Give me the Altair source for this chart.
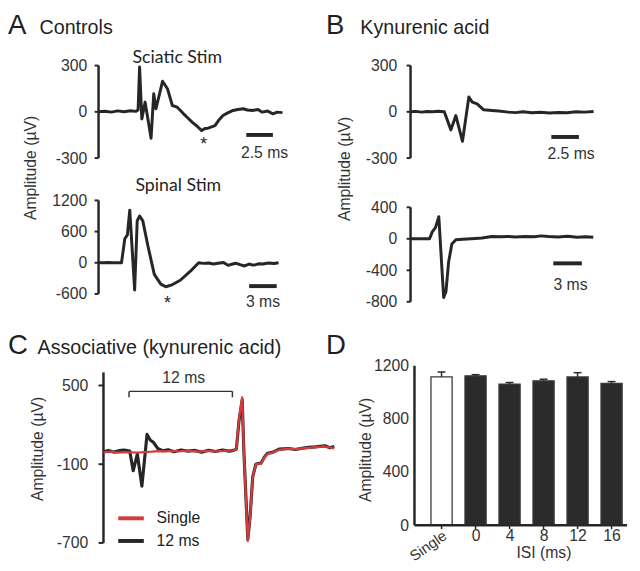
import altair as alt
import pandas as pd

FONT = "Liberation Sans"
INK = "#262626"
LABEL = "#333333"
RED = "#d23c3c"

# ---------------- data ----------------
# A, controls, sciatic stimulation: time (ms), amplitude (uV)
sci_ctrl_t = [0.0, 0.6, 1.2, 1.8, 2.4, 3.0, 3.5, 3.72, 3.86, 4.07, 4.38, 4.94, 5.19, 5.40, 6.02, 6.48,
              6.94, 7.40, 8.00, 8.40, 8.80, 9.30, 9.70, 10.00, 10.30, 10.95, 11.30, 11.70, 12.20, 12.65,
              13.10, 13.60, 14.00, 14.50, 15.00, 15.40, 15.90, 16.40, 16.80, 17.30]
sci_ctrl_v = [0, 4, -2, 6, 1, 7, 3, 12, 291, -46, 63, -171, 117, 20, 198, 150,
              41, 30, -13, -40, -67, -95, -122, -108, -106, -89, -55, -24, -5, 9,
              15, 20, 12, 9, 15, -2, 5, -13, -2, -5]
# A, controls, spinal stimulation
spi_ctrl_t = [0.0, 0.5, 1.0, 1.5, 2.0, 2.5, 2.86, 3.14, 3.40, 3.93, 4.21, 4.47, 4.82, 5.36, 6.07, 6.78,
              7.32, 8.00, 8.90, 10.0, 10.9, 11.4, 12.0, 12.5, 13.0, 13.6, 14.1, 14.6, 15.0, 15.4,
              15.9, 16.4, 16.8, 17.1, 17.5, 17.9, 18.3, 18.6, 19.1, 19.6]
spi_ctrl_v = [0, 0, 5, 0, 0, 0, 462, 537, 1012, -525, 806, 900, 806, 337, -225, -412,
              -462, -425, -337, -162, 0, -12, -5, -25, -10, 6, -50, -25, -10, -37,
              -62, -25, -45, -37, -20, -25, -10, -6, -15, 0]
# B, kynurenic acid, sciatic stimulation
sci_kyn_t = [0.0, 0.5, 1.0, 1.5, 2.0, 2.5, 3.06, 3.66, 4.11, 4.71, 5.29, 5.60, 6.04, 6.63, 7.38, 8.0,
             8.87, 9.5, 10.2, 11.0, 11.8, 12.6, 13.4, 14.2, 15.0, 15.8, 16.6]
sci_kyn_v = [0, 3, -2, 2, 0, 4, 0, -117, -24, -191, 96, 63, 52, 13, 9, 5,
             -2, -5, 0, -6, -3, -8, -4, -6, 0, -2, 2]
# B, kynurenic acid, spinal stimulation
spi_kyn_t = [0.0, 0.5, 1.0, 1.5, 2.0, 2.28, 2.62, 2.97, 3.48, 3.72, 4.0, 4.34, 4.76, 5.5, 6.8, 7.5,
             8.55, 9.5, 10.3, 11.0, 12.0, 13.0, 13.7, 14.5, 15.5, 16.5, 17.5, 18.4, 19.2]
spi_kyn_v = [0, 0, 2, 0, 0, 88, 142, 280, -746, -671, -296, -66, -12, -5, 4, 10,
             29, 25, 29, 22, 30, 25, 37, 28, 22, 33, 20, 25, 20]
# C, associative stimulation (kynurenic acid)
assoc_12_t = [0.0, 0.6, 1.2, 1.8, 2.4, 3.05, 3.45, 3.93, 4.46, 5.06, 5.45, 5.83, 6.29, 6.86, 7.5, 8.2,
              9.0, 9.8, 10.6, 11.4, 12.2, 13.0, 13.8, 14.6, 15.1, 15.43, 15.73, 16.11, 16.3, 16.76,
              17.03, 17.33, 17.71, 18.29, 18.67, 19.05, 19.62, 20.4, 21.5, 22.3, 23.05, 23.8, 24.6,
              25.7, 26.3, 26.8]
assoc_12_v = [-5, 5, -8, 3, 8, 0, -150, -23, -267, 127, 82, 65, 20, 3, 10, -5,
              8, 0, 5, -8, 6, -3, 8, 0, 5, 15, 227, 390, 3, -672,
              -497, -197, -98, -92, -47, -17, -10, 15, 20, 12, 22, 28, 32,
              40, 25, 35]
assoc_single_t = [0.0, 0.8, 1.6, 2.4, 3.2, 4.0, 4.8, 5.6, 6.4, 7.2, 8.0, 8.8, 9.6, 10.4, 11.2, 12.0,
                  12.8, 13.6, 14.4, 15.1, 15.43, 15.73, 16.11, 16.3, 16.76, 17.03, 17.33, 17.71, 18.29,
                  18.67, 19.05, 19.62, 20.4, 21.5, 22.3, 23.05, 23.8, 24.6, 25.7, 26.8]
assoc_single_v = [-10, -5, -12, -8, -10, -12, -8, -5, 0, -3, 2, -2, 3, 0, -4, 2,
                  -2, 0, 3, 5, 18, 240, 410, 0, -685, -505, -200, -100, -95,
                  -50, -22, -12, 10, 18, 15, 20, 25, 30, 35, 20]
# D, amplitude by inter-stimulus interval
isi_labels = ["Single", "0", "4", "8", "12", "16"]
isi_means = [1116, 1124, 1062, 1087, 1116, 1067]
isi_sem = [37, 9, 12, 12, 32, 14]

# scale bars: start (ms), end (ms), level (uV)
bar_sci_ctrl = [13.9, 16.4, -150]
bar_spi_ctrl = [16.4, 19.4, -450]
bar_sci_kyn = [12.77, 15.27, -163]
bar_spi_kyn = [15.0, 18.0, -312]
# asterisks: time (ms), amplitude (uV)
star_sci_ctrl = [9.9, -122]
star_spi_ctrl = [7.5, -462]
# bracket in C: start, end (ms), top, foot (uV)
bracket_c = [2.97, 14.97, 455, 410]


# ---------------- helpers ----------------
def yaxis(values, pad):
    return alt.Axis(values=values, title=None, grid=False, domain=False, ticks=False,
                    labelFontSize=16, labelColor=LABEL, labelPadding=pad,
                    labelExpr="'' + datum.value")


def axis_line(xs, ys, ax, t_axis, t_tick, lo, hi, ticks):
    """Axis spine and outward ticks drawn as line marks through the panel's scales."""
    spine_df = pd.DataFrame({"t": [t_axis, t_axis], "v": [lo, hi], "k": [0, 1]})
    spine = alt.Chart(spine_df).mark_line(color=INK, strokeWidth=2.5, strokeCap="butt").encode(
        x=alt.X("t:Q", scale=xs, axis=None),
        y=alt.Y("v:Q", scale=ys, axis=ax), order="k:Q")
    rows = []
    for v in ticks:
        rows.append({"t": t_tick, "v": v, "g": str(v)})
        rows.append({"t": t_axis, "v": v, "g": str(v)})
    tk = alt.Chart(pd.DataFrame(rows)).mark_line(color=INK, strokeWidth=2, strokeCap="butt").encode(
        x=alt.X("t:Q", scale=xs, axis=None),
        y=alt.Y("v:Q", scale=ys, axis=ax), detail="g:N")
    return spine + tk


def trace(t, v, xs, ys, axis):
    df = pd.DataFrame({"t": t, "v": v})
    return alt.Chart(df).mark_line(color=INK, strokeWidth=3, strokeJoin="round").encode(
        x=alt.X("t:Q", scale=xs, axis=None),
        y=alt.Y("v:Q", scale=ys, axis=axis),
    )


def scalebar(bar, text, xs, ys, axis, dx, dy):
    df = pd.DataFrame({"t0": [bar[0]], "t1": [bar[1]], "v": [bar[2]],
                       "tc": [(bar[0] + bar[1]) / 2], "lab": [text]})
    rule = alt.Chart(df).mark_rule(color=INK, strokeWidth=4).encode(
        x=alt.X("t0:Q", scale=xs, axis=None), x2="t1:Q",
        y=alt.Y("v:Q", scale=ys, axis=axis))
    txt = alt.Chart(df).mark_text(fontSize=16, color=LABEL, align="center",
                                  baseline="alphabetic", dx=dx, dy=dy).encode(
        x=alt.X("tc:Q", scale=xs, axis=None), y=alt.Y("v:Q", scale=ys, axis=axis),
        text="lab:N")
    return rule + txt


def star(pt, xs, ys, axis, dy):
    df = pd.DataFrame({"t": [pt[0]], "v": [pt[1]], "s": ["*"]})
    return alt.Chart(df).mark_text(fontSize=18, color=INK, baseline="top", dy=dy).encode(
        x=alt.X("t:Q", scale=xs, axis=None), y=alt.Y("v:Q", scale=ys, axis=axis), text="s:N")


def label(text, x, y, size, align="left", baseline="alphabetic", angle=0, font=FONT, color="#1f1f1f"):
    df = pd.DataFrame({"s": [text]})
    return alt.Chart(df).mark_text(align=align, baseline=baseline, fontSize=size, font=font,
                                   angle=angle, color=color).encode(
        x=alt.value(x), y=alt.value(y), text="s:N")


# ---------------- panel A ----------------
xs_a1 = alt.Scale(domain=[-0.741, 22.22], nice=False, zero=False)
ys_a1 = alt.Scale(domain=[-300, 300], range=[97, 3], nice=False, zero=False)
ticks_a1 = [-300, 0, 300]
ax_a1 = yaxis(ticks_a1, 4)
a_top = alt.layer(
    axis_line(xs_a1, ys_a1, ax_a1, 0, -0.37, -300, 300, ticks_a1),
    trace(sci_ctrl_t, sci_ctrl_v, xs_a1, ys_a1, ax_a1),
    scalebar(bar_sci_ctrl, "2.5 ms", xs_a1, ys_a1, ax_a1, 5, 23),
    star(star_sci_ctrl, xs_a1, ys_a1, ax_a1, 6),
    label("A", -84, -51, 28, baseline="top"),
    label("Controls", -52, -29, 20),
    label("Sciatic Stim", 88, 0, 18, align="center", font="Lato"),
    label("Amplitude (µV)", -61, 107, 16, align="center", baseline="middle", angle=270, color=LABEL),
).properties(width=248, height=100)

xs_a2 = alt.Scale(domain=[-0.857, 25.72], nice=False, zero=False)
ys_a2 = alt.Scale(domain=[-600, 1200], range=[98, 3], nice=False, zero=False)
ticks_a2 = [-600, 0, 600, 1200]
ax_a2 = yaxis(ticks_a2, 4)
a_bot = alt.layer(
    axis_line(xs_a2, ys_a2, ax_a2, 0, -0.43, -600, 1200, ticks_a2),
    trace(spi_ctrl_t, spi_ctrl_v, xs_a2, ys_a2, ax_a2),
    scalebar(bar_spi_ctrl, "3 ms", xs_a2, ys_a2, ax_a2, 0, 21),
    star(star_spi_ctrl, xs_a2, ys_a2, ax_a2, 9),
    label("Spinal Stim", 89, -7, 18, align="center", font="Lato"),
).properties(width=248, height=109)

# ---------------- panel B ----------------
xs_b1 = alt.Scale(domain=[-0.714, 19.82], nice=False, zero=False)
ys_b1 = alt.Scale(domain=[-300, 300], range=[97, 3], nice=False, zero=False)
ticks_b1 = [-300, 0, 300]
ax_b1 = yaxis(ticks_b1, 6)
b_top = alt.layer(
    axis_line(xs_b1, ys_b1, ax_b1, 0, -0.36, -300, 300, ticks_b1),
    trace(sci_kyn_t, sci_kyn_v, xs_b1, ys_b1, ax_b1),
    scalebar(bar_sci_kyn, "2.5 ms", xs_b1, ys_b1, ax_b1, 6, 22),
    label("B", -78, -51, 28, baseline="top"),
    label("Kynurenic acid", -43, -29, 20),
    label("Amplitude (µV)", -59, 108, 16, align="center", baseline="middle", angle=270, color=LABEL),
).properties(width=230, height=100)

xs_b2 = alt.Scale(domain=[-0.827, 22.96], nice=False, zero=False)
ys_b2 = alt.Scale(domain=[-800, 400], range=[106, 10], nice=False, zero=False)
ticks_b2 = [-800, -400, 0, 400]
ax_b2 = yaxis(ticks_b2, 6)
b_bot = alt.layer(
    axis_line(xs_b2, ys_b2, ax_b2, 0, -0.41, -800, 400, ticks_b2),
    trace(spi_kyn_t, spi_kyn_v, xs_b2, ys_b2, ax_b2),
    scalebar(bar_spi_kyn, "3 ms", xs_b2, ys_b2, ax_b2, 3, 27),
).properties(width=230, height=109)

# ---------------- panel C ----------------
xs_c = alt.Scale(domain=[-1.486, 26.857], nice=False, zero=False)
ys_c = alt.Scale(domain=[-700, 600], range=[205, 31.7], nice=False, zero=False)
ticks_c = [500, -100, -700]
col_c = alt.Scale(domain=["Single", "12 ms"], range=[RED, INK])
leg_c = alt.Legend(orient="none", legendX=26, legendY=165, title=None, symbolType="stroke",
                   symbolStrokeWidth=4, symbolSize=676, labelFontSize=16, labelOffset=11,
                   rowPadding=-4, padding=0, labelColor="#222222")
axis_c = alt.Axis(values=ticks_c, title="Amplitude (µV)", titleX=-54, titleY=109,
                  titleAngle=270, titleAlign="center", titleBaseline="middle", titleFontSize=16,
                  titleFontWeight="normal", titleColor=LABEL, grid=False, domain=False, ticks=False,
                  labelFontSize=16, labelColor=LABEL, labelPadding=3, labelExpr="'' + datum.value")

df_c12 = pd.DataFrame({"t": assoc_12_t, "v": assoc_12_v, "s": "12 ms"})
df_cs = pd.DataFrame({"t": assoc_single_t, "v": assoc_single_v, "s": "Single"})
c_black = alt.Chart(df_c12).mark_line(strokeWidth=3.2, strokeJoin="round").encode(
    x=alt.X("t:Q", scale=xs_c, axis=None), y=alt.Y("v:Q", scale=ys_c, axis=axis_c),
    color=alt.Color("s:N", scale=col_c, legend=leg_c))
c_red = alt.Chart(df_cs).mark_line(strokeWidth=2.3, strokeJoin="round").encode(
    x=alt.X("t:Q", scale=xs_c, axis=None), y=alt.Y("v:Q", scale=ys_c, axis=axis_c),
    color=alt.Color("s:N", scale=col_c, legend=leg_c))

df_br = pd.DataFrame({"t0": [bracket_c[0]], "t1": [bracket_c[1]], "hi": [bracket_c[2]],
                      "tc": [(bracket_c[0] + bracket_c[1]) / 2], "lab": ["12 ms"]})
df_brt = pd.DataFrame({"t": [bracket_c[0], bracket_c[1]], "hi": [bracket_c[2]] * 2,
                       "lo": [bracket_c[3]] * 2})
br_h = alt.Chart(df_br).mark_rule(color="#333333", strokeWidth=1.5).encode(
    x=alt.X("t0:Q", scale=xs_c, axis=None), x2="t1:Q", y=alt.Y("hi:Q", scale=ys_c, axis=axis_c))
br_v = alt.Chart(df_brt).mark_rule(color="#333333", strokeWidth=1.5).encode(
    x=alt.X("t:Q", scale=xs_c, axis=None), y=alt.Y("lo:Q", scale=ys_c, axis=axis_c), y2="hi:Q")
br_t = alt.Chart(df_br).mark_text(fontSize=16, color=LABEL, dx=3, dy=-9, baseline="alphabetic").encode(
    x=alt.X("tc:Q", scale=xs_c, axis=None), y=alt.Y("hi:Q", scale=ys_c, axis=axis_c), text="lab:N")

c_panel = alt.layer(
    axis_line(xs_c, ys_c, axis_c, 0, -0.57, -700, 600, ticks_c),
    c_black, c_red, br_h, br_v, br_t,
    label("C", -84, 13, 28),
    label("Associative (kynurenic acid)", -54, 13, 20),
).properties(width=248, height=208)

# ---------------- panel D ----------------
pos = list(range(len(isi_labels)))
df_d = pd.DataFrame({"i": pos, "isi": isi_labels, "mean": isi_means, "sem": isi_sem})
df_d["top"] = df_d["mean"] + df_d["sem"]
df_d["l"] = df_d["i"] - 0.311
df_d["r"] = df_d["i"] + 0.311
df_d["cl"] = df_d["i"] - 0.116
df_d["cr"] = df_d["i"] + 0.116
df_d["zero"] = 0
xs_d = alt.Scale(domain=[-1.143, 5.514], nice=False, zero=False)
ys_d = alt.Scale(domain=[0, 1200], range=[187, 25], nice=False)
lab_expr = "[" + ",".join("''" if s == "Single" else "'%s'" % s for s in isi_labels) + "][datum.value]"
axis_dx = alt.Axis(values=pos, title="ISI (ms)", titleX=143, titleY=15, titleBaseline="top",
                   titleAlign="center", titleFontSize=16, titleFontWeight="normal", titleColor=LABEL,
                   labelAngle=0, labelExpr=lab_expr, labelFontSize=16, labelColor=LABEL,
                   labelPadding=-2, domain=False, ticks=False, grid=False)
axis_dy = alt.Axis(values=[0, 400, 800, 1200], title="Amplitude (µV)", titleX=-38, titleY=110,
                   titleAngle=270, titleAlign="center", titleBaseline="middle", titleFontSize=16,
                   titleFontWeight="normal", titleColor=LABEL, grid=False, ticks=False, domain=False,
                   labelFontSize=16, labelColor=LABEL, labelPadding=-6, labelExpr="'' + datum.value")

# D axes as line marks: y spine, x spine, and ticks under each bar
d_ax, d_xend, d_tick = -0.796, 5.456, -29.6
d_spines = pd.DataFrame({"x": [d_ax, d_ax, d_ax, d_xend], "y": [1200, 0, 0, 0],
                         "g": ["y", "y", "x", "x"], "k": [0, 1, 0, 1]})
d_spine = alt.Chart(d_spines).mark_line(color=INK, strokeWidth=2.5, strokeCap="butt").encode(
    x=alt.X("x:Q", scale=xs_d, axis=axis_dx), y=alt.Y("y:Q", scale=ys_d, axis=axis_dy),
    detail="g:N", order="k:Q")
tick_rows = []
for i in pos:
    tick_rows.append({"x": i, "y": 0, "g": str(i), "k": 0})
    tick_rows.append({"x": i, "y": d_tick, "g": str(i), "k": 1})
d_ticks_x = alt.Chart(pd.DataFrame(tick_rows)).mark_line(color=INK, strokeWidth=1.5, strokeCap="butt").encode(
    x=alt.X("x:Q", scale=xs_d, axis=axis_dx), y=alt.Y("y:Q", scale=ys_d, axis=axis_dy),
    detail="g:N", order="k:Q")
bars = alt.Chart(df_d).mark_bar(stroke="#3a3a3a", strokeWidth=1.3).encode(
    x=alt.X("l:Q", scale=xs_d, axis=axis_dx), x2="r:Q",
    y=alt.Y("mean:Q", scale=ys_d, axis=axis_dy), y2="zero:Q",
    fill=alt.condition("datum.isi == 'Single'", alt.value("white"), alt.value("#2b2b2b")))
errs = alt.Chart(df_d).mark_rule(color="#2b2b2b", strokeWidth=1.5).encode(
    x=alt.X("i:Q", scale=xs_d, axis=axis_dx), y=alt.Y("mean:Q", scale=ys_d, axis=axis_dy), y2="top:Q")
caps = alt.Chart(df_d).mark_rule(color="#2b2b2b", strokeWidth=1.5).encode(
    x=alt.X("cl:Q", scale=xs_d, axis=axis_dx), x2="cr:Q", y=alt.Y("top:Q", scale=ys_d, axis=axis_dy))
single_lab = alt.Chart(df_d[df_d["isi"] == "Single"]).mark_text(
    fontSize=15, color=LABEL, angle=325, align="right", baseline="middle", dx=-2.3, dy=9.4).encode(
    x=alt.X("i:Q", scale=xs_d, axis=axis_dx), y=alt.Y("zero:Q", scale=ys_d, axis=axis_dy),
    text="isi:N")

d_panel = alt.layer(
    d_ticks_x, bars, errs, caps, d_spine, single_lab,
    label("D", -78, 13, 28),
).properties(width=230, height=192)

chart = alt.concat(
    a_top, b_top, a_bot, b_bot, c_panel, d_panel,
    columns=2, spacing={"row": 37, "column": 69}, bounds="flush",
).resolve_legend(color="independent").properties(padding=0).configure(font=FONT).configure_view(
    strokeWidth=0)

chart.save("out.html", embed_options={"renderer": "svg", "actions": False})
